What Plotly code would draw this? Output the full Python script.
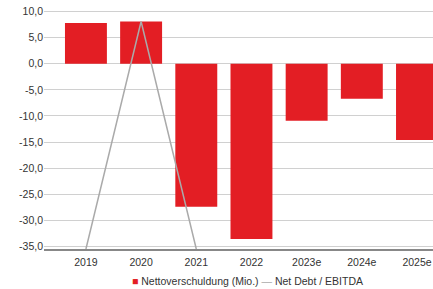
import plotly.graph_objects as go

categories = ["2019", "2020", "2021", "2022", "2023e", "2024e", "2025e"]
net_debt = [7.8, 8.1, -27.4, -33.6, -10.9, -6.7, -14.6]
net_debt_ebitda = [-35.5, 8.1, -35.5, None, None, None, None]
y_tick_vals = [10, 5, 0, -5, -10, -15, -20, -25, -30, -35]
y_tick_text = ["10,0", "5,0", "0,0", "-5,0", "-10,0", "-15,0", "-20,0", "-25,0", "-30,0", "-35,0"]
series_names = ["Nettoverschuldung (Mio.)", "Net Debt / EBITDA"]
bar_color = "#e31e24"
line_color = "#aaaaaa"

x_idx = list(range(len(categories)))

fig = go.Figure()
fig.add_trace(go.Bar(
    x=x_idx, y=net_debt, name=series_names[0],
    marker=dict(color=bar_color, line=dict(width=0)), width=0.76,
))
fig.add_trace(go.Scatter(
    x=x_idx, y=net_debt_ebitda, name=series_names[1], mode="lines",
    line=dict(color=line_color, width=1.5), connectgaps=False,
))

legend_text = (
    f"<span style='color:{bar_color}'>■</span> {series_names[0]} "
    f"<span style='color:{line_color}'>—</span> {series_names[1]}"
)

fig.update_layout(
    width=433, height=289,
    margin=dict(l=44, r=0, t=9, b=40, autoexpand=False),
    paper_bgcolor="white", plot_bgcolor="white",
    font=dict(family="Liberation Sans, Arial, sans-serif", size=10.5, color="#333333"),
    showlegend=False,
    annotations=[dict(
        text=legend_text, xref="paper", yref="paper",
        x=(247 - 44) / 389, y=-(282 - 249.5) / 240.5, xanchor="center", yanchor="middle",
        showarrow=False, font=dict(size=10.5, color="#333333"),
    )],
)
fig.update_xaxes(
    tickvals=x_idx, ticktext=categories, range=[-0.76, 6.29], automargin=False,
    showgrid=False, zeroline=False, showline=True, linecolor="#888888", linewidth=1.5,
    ticks="", tickfont=dict(size=10.5, color="#333333"), ticklabelstandoff=3,
)
fig.update_yaxes(
    range=[-35.5, 10.5], tickvals=y_tick_vals, ticktext=y_tick_text, automargin=False,
    showgrid=True, gridcolor="#d0d0d0", gridwidth=1, zeroline=False,
    showline=False, ticks="", tickfont=dict(size=10.5, color="#333333"),
)

fig.write_html(
    "out.html",
    config={"displayModeBar": False},
    post_script="document.body.style.margin='0px';document.body.style.overflow='hidden';",
)
